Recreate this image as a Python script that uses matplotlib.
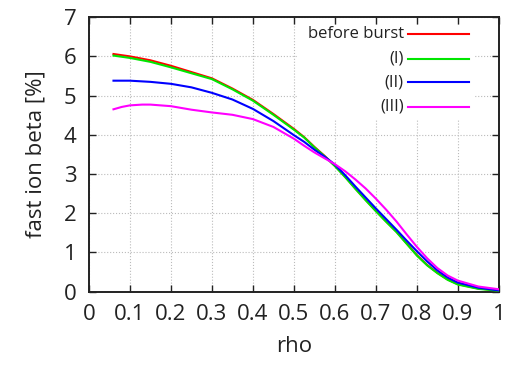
import matplotlib
matplotlib.use("Agg")
import matplotlib.pyplot as plt
from matplotlib.patches import Rectangle

plt.rcParams['font.family'] = ['Open Sans', 'DejaVu Sans']

rho = [0.06, 0.1, 0.15, 0.2, 0.25, 0.3, 0.35, 0.4, 0.45, 0.5, 0.525,
       0.55, 0.575, 0.6, 0.625, 0.65, 0.675, 0.7, 0.725, 0.75, 0.775,
       0.8, 0.825, 0.85, 0.875, 0.9, 0.95, 1.0]
before_burst = [6.06, 6.00, 5.90, 5.76, 5.60, 5.44, 5.18, 4.89, 4.53, 4.15, 3.94,
                3.69, 3.46, 3.21, 2.93, 2.63, 2.34, 2.06, 1.79, 1.53, 1.23,
                0.93, 0.68, 0.48, 0.31, 0.19, 0.08, 0.03]
phase_1 = [6.02, 5.96, 5.86, 5.72, 5.57, 5.42, 5.16, 4.87, 4.51, 4.13, 3.93,
           3.68, 3.45, 3.20, 2.92, 2.62, 2.33, 2.05, 1.78, 1.52, 1.22,
           0.92, 0.67, 0.47, 0.30, 0.18, 0.07, 0.02]
phase_2 = [5.38, 5.38, 5.35, 5.30, 5.21, 5.07, 4.90, 4.66, 4.35, 3.99, 3.82,
           3.62, 3.44, 3.24, 2.97, 2.68, 2.40, 2.12, 1.85, 1.58, 1.30,
           1.03, 0.77, 0.54, 0.36, 0.23, 0.10, 0.03]
rho_3 = [0.06, 0.08, 0.1, 0.13, 0.15, 0.2, 0.25, 0.3, 0.35, 0.4, 0.45, 0.5, 0.525,
         0.55, 0.575, 0.6, 0.625, 0.65, 0.675, 0.7, 0.725, 0.75, 0.775,
         0.8, 0.825, 0.85, 0.875, 0.9, 0.95, 1.0]
phase_3 = [4.65, 4.71, 4.75, 4.77, 4.77, 4.73, 4.64, 4.57, 4.51, 4.40, 4.20, 3.90, 3.72,
           3.55, 3.40, 3.25, 3.07, 2.86, 2.63, 2.37, 2.09, 1.79, 1.46,
           1.14, 0.85, 0.60, 0.41, 0.28, 0.13, 0.06]

labels = ["before burst", "(I)", "(II)", "(III)"]
colors = ["#ff0000", "#00e600", "#0000ff", "#ff00ff"]

fig = plt.figure(figsize=(5.05, 3.65), dpi=100)
ax = fig.add_axes([0.176, 0.201, 0.812, 0.752])

series = [(rho, before_burst), (rho, phase_1), (rho, phase_2), (rho_3, phase_3)]
for (x, y), c in zip(series, colors):
    ax.plot(x, y, color=c, lw=1.5, zorder=3)

ax.set_xlim(0, 1)
ax.set_ylim(0, 7)
ax.set_xticks([0, 0.1, 0.2, 0.3, 0.4, 0.5, 0.6, 0.7, 0.8, 0.9, 1])
ax.set_xticklabels(["0", "0.1", "0.2", "0.3", "0.4", "0.5", "0.6", "0.7", "0.8", "0.9", "1"])
ax.set_yticks(range(8))
ax.tick_params(direction='in', length=5, width=1, top=True, right=True,
               labelsize=16, colors='#222222')
ax.tick_params(axis='x', pad=9)
ax.tick_params(axis='y', pad=9)
ax.grid(True, color='#bbbbbb', linestyle=':', linewidth=0.8)
ax.set_axisbelow(True)
for s in ax.spines.values():
    s.set_linewidth(1.4)
    s.set_color('#222222')

ax.set_xlabel("rho", fontsize=16, color='#222222', labelpad=8)
ax.set_ylabel("fast ion beta [%]", fontsize=16, color='#222222', labelpad=12)

# gnuplot style key, text right aligned before the sample line
ax.add_patch(Rectangle((0.51, 0.63), 0.43, 0.34, transform=ax.transAxes,
                       facecolor='white', edgecolor='none', zorder=1))
rows = [0.938, 0.849, 0.762, 0.673]
for lab, c, yy in zip(labels, colors, rows):
    ax.text(0.768, yy, lab, transform=ax.transAxes, ha='right', va='center',
            fontsize=12, color='#222222', zorder=4)
    ax.plot([0.778, 0.927], [yy, yy], transform=ax.transAxes, color=c, lw=1.5, zorder=4)

fig.savefig("out.png", dpi=100)
